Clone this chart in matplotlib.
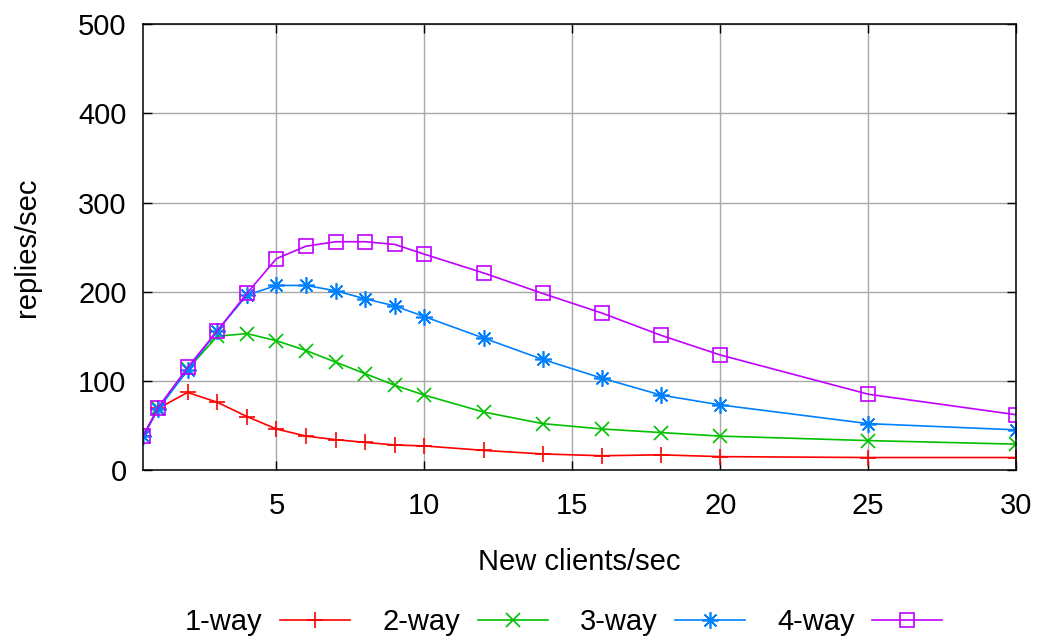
import matplotlib
matplotlib.use("Agg")
import matplotlib.pyplot as plt

# new clients/sec
clients = [0.5, 1, 2, 3, 4, 5, 6, 7, 8, 9, 10, 12, 14, 16, 18, 20, 25, 30]

one_way = [38, 69, 87, 76, 60, 46, 38, 34, 31, 28, 27, 22, 18, 16, 17, 15, 14, 14]
two_way = [38, 69, 113, 150, 153, 145, 134, 121, 108, 95, 84, 65, 52, 46, 42, 38, 33, 29]
three_way = [38, 68, 112, 156, 196, 207, 207, 201, 192, 184, 172, 148, 124, 103, 84, 73, 52, 45]
four_way = [38, 70, 115, 156, 198, 237, 251, 256, 256, 253, 242, 221, 198, 176, 151, 129, 85, 62]

series = [
    ("1-way", one_way, "#ff0000", "+", 11),
    ("2-way", two_way, "#00c000", "x", 10),
    ("3-way", three_way, "#0080ff", (8, 2, 0), 12),
    ("4-way", four_way, "#c000ff", "s", 10.5),
]

plt.rcParams["font.family"] = ["Liberation Sans", "DejaVu Sans"]
FS = 21

fig = plt.figure(figsize=(10.38, 6.36), dpi=100)
ax = fig.add_axes([0.138, 0.261, 0.841, 0.701])

for label, vals, color, marker, ms in series:
    ax.plot(clients, vals, color=color, lw=1.2, marker=marker, markersize=ms,
            mfc="none", mec=color, mew=1.2, label=label)

ax.set_xlim(0.5, 30)
ax.set_ylim(0, 500)
ax.set_xticks([5, 10, 15, 20, 25, 30])
ax.set_yticks([0, 100, 200, 300, 400, 500])
ax.tick_params(direction="in", length=6.5, width=1, top=True, right=True,
               labelsize=FS)
ax.tick_params(axis="x", pad=16)
ax.tick_params(axis="y", pad=12)
ax.grid(True, color="#a8a8a8", lw=1)
ax.set_axisbelow(True)
for s in ax.spines.values():
    s.set_linewidth(1.1)

ax.set_xlabel("New clients/sec", fontsize=FS, labelpad=20)
ax.set_ylabel("replies/sec", fontsize=FS, labelpad=27)

fig.legend(loc="center", bbox_to_anchor=(0.543, 0.022), ncol=4, frameon=False,
           markerfirst=False, fontsize=FS, handlelength=2.4, handletextpad=0.6,
           columnspacing=1.1)

fig.savefig("out.png", dpi=100)
